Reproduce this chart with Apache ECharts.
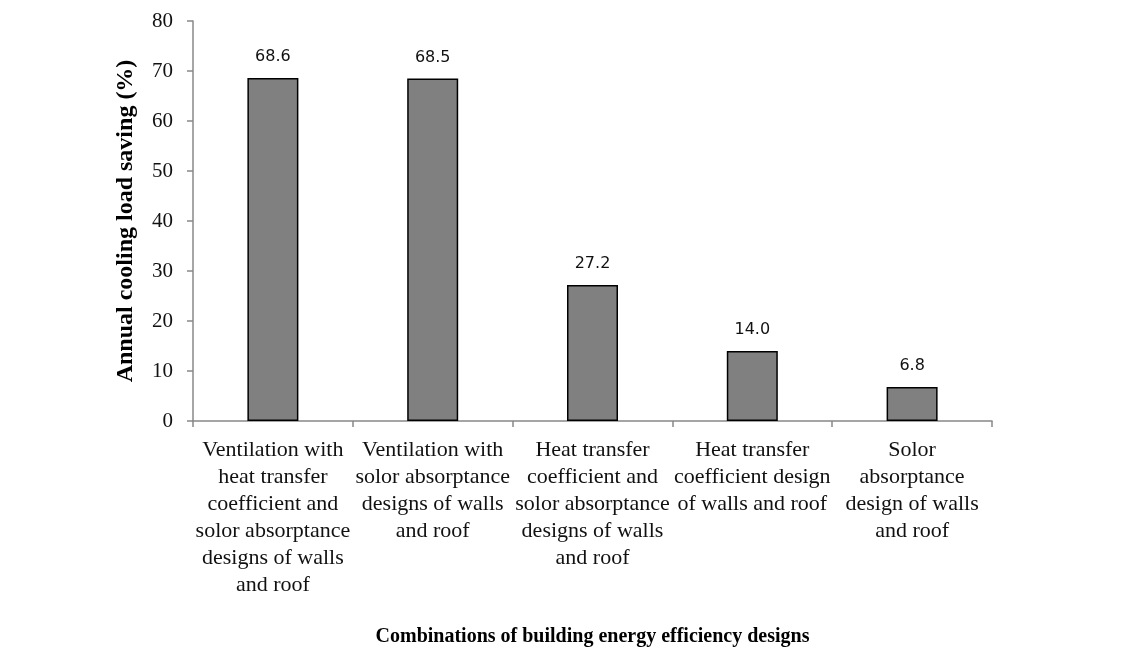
<!DOCTYPE html>
<html>
<head>
<meta charset="utf-8">
<script src="https://cdn.jsdelivr.net/npm/echarts@6/dist/echarts.min.js"></script>
<style>
  html, body { margin: 0; padding: 0; background: #fff; }
  #chart { width: 1145px; height: 648px; }
</style>
</head>
<body>
<div id="chart"></div>
<script>
const categories = [
  "Ventilation with\nheat transfer\ncoefficient and\nsolor absorptance\ndesigns of walls\nand roof",
  "Ventilation with\nsolor absorptance\ndesigns of walls\nand roof",
  "Heat transfer\ncoefficient and\nsolor absorptance\ndesigns of walls\nand roof",
  "Heat transfer\ncoefficient design\nof walls and roof",
  "Solor\nabsorptance\ndesign of walls\nand roof"
];
const savings = [68.6, 68.5, 27.2, 14.0, 6.8];
const yTicks = [0, 10, 20, 30, 40, 50, 60, 70, 80];

const serif = "Liberation Serif, Times New Roman, serif";
const chart = echarts.init(document.getElementById("chart"));
chart.setOption({
  animation: false,
  grid: { left: 193, right: 153, top: 21, bottom: 227, containLabel: false, outerBoundsMode: "none" },
  xAxis: {
    type: "category",
    data: categories,
    name: "Combinations of building energy efficiency designs",
    nameLocation: "middle",
    nameGap: 206,
    nameTextStyle: { fontFamily: serif, fontWeight: "bold", fontSize: 20, color: "#000" },
    axisLine: { lineStyle: { color: "#888", width: 1.5 } },
    axisTick: { show: true, alignWithLabel: false, length: 6, lineStyle: { color: "#888", width: 1.5 } },
    axisLabel: { fontFamily: serif, fontSize: 22, color: "#111", lineHeight: 27, margin: 16, interval: 0 }
  },
  yAxis: {
    type: "value",
    min: yTicks[0],
    max: yTicks[yTicks.length - 1],
    interval: 10,
    name: "Annual cooling load saving (%)",
    nameLocation: "middle",
    nameGap: 55,
    nameTextStyle: { fontFamily: serif, fontWeight: "bold", fontSize: 24, color: "#000" },
    axisLine: { show: true, lineStyle: { color: "#888", width: 1.5 } },
    axisTick: { show: true, length: 6, lineStyle: { color: "#888", width: 1.5 } },
    axisLabel: { fontFamily: serif, fontSize: 21, color: "#111", margin: 20 },
    splitLine: { show: false }
  },
  series: [{
    type: "bar",
    data: savings,
    barWidth: 51,
    itemStyle: { color: "#808080", borderColor: "#000", borderWidth: 1.5 },
    label: {
      show: true,
      position: "top",
      distance: 13,
      fontFamily: "DejaVu Sans, sans-serif",
      fontSize: 16,
      color: "#111",
      formatter: p => p.value.toFixed(1)
    }
  }]
});
</script>
</body>
</html>
